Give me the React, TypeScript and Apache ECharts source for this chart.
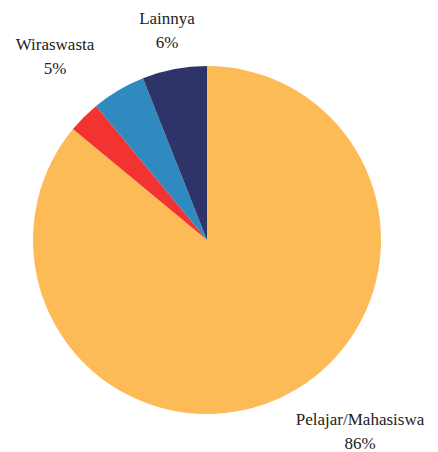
import React, { useEffect, useRef } from "react";
import * as echarts from "echarts";

const categories = ["Pelajar/Mahasiswa", "Pegawai", "Wiraswasta", "Lainnya"];
const values = [86, 3, 5, 6];
const colors = ["#FDBB58", "#F23331", "#2F8BBF", "#2E3469"];
const showLabel = [true, false, true, true];

// label block centres (page px)
const labelPos: Record<number, [number, number]> = {
  0: [360, 431],
  2: [55, 56],
  3: [167, 30],
};

const FONT = "Times New Roman";

export default function App() {
  const ref = useRef<HTMLDivElement>(null);
  useEffect(() => {
    if (!ref.current) return;
    const chart = echarts.init(ref.current, undefined, { renderer: "svg" });
    chart.setOption({
      animation: false,
      backgroundColor: "#ffffff",
      textStyle: { fontFamily: FONT },
      series: [
        {
          type: "pie",
          center: [207, 240],
          radius: 174,
          startAngle: 90,
          clockwise: true,
          avoidLabelOverlap: false,
          itemStyle: { borderWidth: 0 },
          label: {
            show: true,
            position: "outside",
            fontFamily: FONT,
            fontSize: 17,
            lineHeight: 24,
            color: "#222222",
            align: "center",
            formatter: (p: any) => `${p.name}\n${p.value}%`,
          },
          labelLine: { show: false },
          labelLayout: (params: any) => {
            const pos = labelPos[params.dataIndex];
            if (!pos) return {};
            return { x: pos[0], y: pos[1], align: "center", verticalAlign: "middle" };
          },
          data: categories.map((c, i) => ({
            name: c,
            value: values[i],
            itemStyle: { color: colors[i] },
            label: { show: showLabel[i] },
          })),
        },
      ],
    });
    return () => chart.dispose();
  }, []);
  return (
    <div
      ref={ref}
      style={{ position: "absolute", left: 0, top: 0, width: 438, height: 452 }}
    />
  );
}
